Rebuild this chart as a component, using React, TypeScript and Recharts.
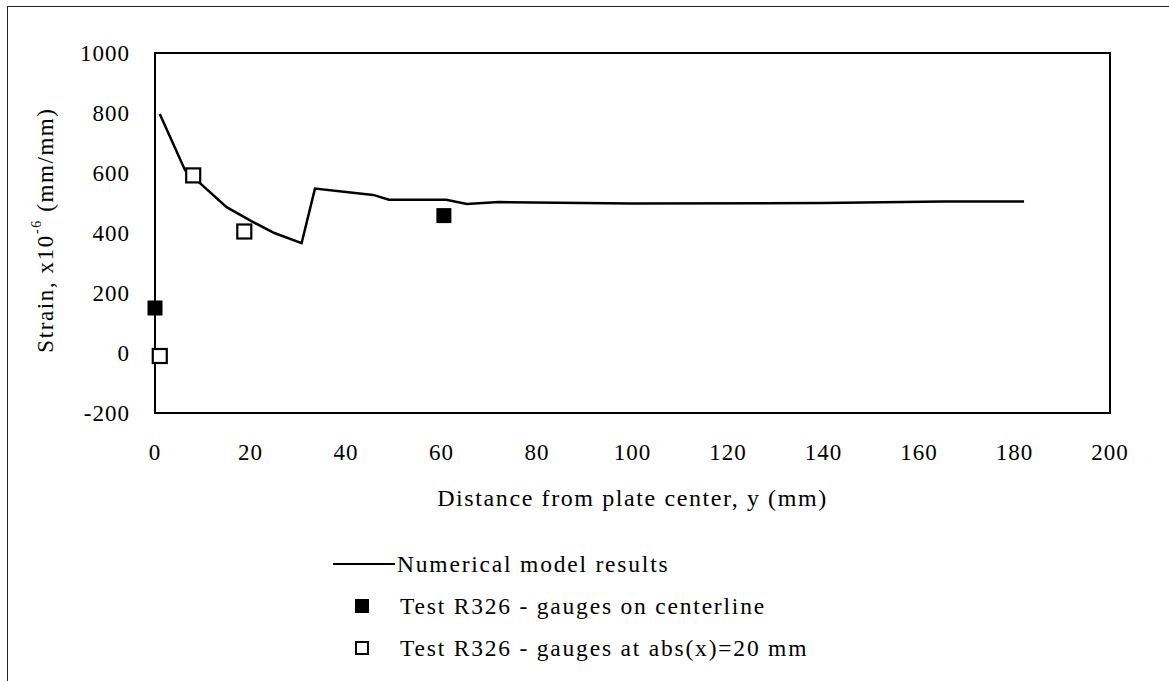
import React from 'react';
import { ComposedChart, Line, Scatter, XAxis, YAxis, ReferenceArea, Legend } from 'recharts';

// Numerical model curve (strain vs. distance from plate center)
const modelX = [1, 6.3, 9, 15, 20, 25, 30.7, 33.5, 45.7, 49, 61, 65.3, 72, 100, 140, 165, 182];
const modelY = [797, 609, 572, 486, 441, 400, 366, 548, 527, 511, 511, 497, 503, 498, 500, 505, 505];

// Test R326 gauges
const centerX = [0, 60.5];
const centerY = [150, 458];
const offsetX = [1, 8, 18.7];
const offsetY = [-10, 592, 405];

const xTicks = [0, 20, 40, 60, 80, 100, 120, 140, 160, 180, 200];
const yTicks = [-200, 0, 200, 400, 600, 800, 1000];

const modelData = modelX.map((x, i) => ({ x, y: modelY[i] }));
const centerData = centerX.map((x, i) => ({ x, y: centerY[i] }));
const offsetData = offsetX.map((x, i) => ({ x, y: offsetY[i] }));

const FONT = '"Liberation Serif", "Times New Roman", serif';

const FilledSquare = (props: any) => {
  const { cx, cy } = props;
  return <rect x={cx - 7.5} y={cy - 7.5} width={15} height={15} fill="#000" />;
};

const OpenSquare = (props: any) => {
  const { cx, cy } = props;
  return <rect x={cx - 7} y={cy - 7} width={14} height={14} fill="#fff" stroke="#000" strokeWidth={2.2} />;
};

const YTitle = (props: any) => {
  const { viewBox } = props;
  const cx = 45;
  const cy = viewBox.y + viewBox.height / 2 - 3;
  return (
    <text
      x={cx}
      y={cy}
      transform={`rotate(-90 ${cx} ${cy})`}
      textAnchor="middle"
      dominantBaseline="central"
      fontFamily={FONT}
      fontSize={23}
      letterSpacing={1.6}
      fill="#000"
    >
      Strain, x10
      <tspan dy={-9} fontSize={14}>-6</tspan>
      <tspan dy={9}> (mm/mm)</tspan>
    </text>
  );
};

const LegendBox = () => {
  const row: React.CSSProperties = {
    display: 'flex',
    alignItems: 'center',
    height: 42,
    fontFamily: FONT,
    fontSize: 23.5,
    letterSpacing: 1.8,
    color: '#000',
    whiteSpace: 'nowrap',
  };
  const markBox: React.CSSProperties = { width: 36, flexShrink: 0, display: 'flex', justifyContent: 'flex-end', marginRight: 31 };
  return (
    <div style={{ width: 560 }}>
      <div style={row}>
        <div style={{ width: 62, height: 2, flexShrink: 0, background: '#000', marginRight: 2 }} />
        <span>Numerical model results</span>
      </div>
      <div style={row}>
        <div style={markBox}>
          <div style={{ width: 14, height: 14, background: '#000' }} />
        </div>
        <span>Test R326 - gauges on centerline</span>
      </div>
      <div style={row}>
        <div style={markBox}>
          <div style={{ width: 10, height: 10, border: '2px solid #000', background: '#fff' }} />
        </div>
        <span>Test R326 - gauges at abs(x)=20 mm</span>
      </div>
    </div>
  );
};

export default function App() {
  return (
    <div style={{ position: 'absolute', left: 0, top: 0, width: 1169, height: 681, background: '#fff', overflow: 'hidden' }}>
      <div
        style={{
          position: 'absolute',
          left: 7,
          top: 6,
          width: 1180,
          height: 700,
          border: '1.5px solid #222',
          boxSizing: 'border-box',
        }}
      />
      <ComposedChart
        width={1169}
        height={681}
        margin={{ top: 53, right: 59, left: 95, bottom: 238 }}
        style={{ position: 'absolute', left: 0, top: 0 }}
      >
        <XAxis
          dataKey="x"
          type="number"
          domain={[0, 200]}
          ticks={xTicks}
          interval={0}
          height={30}
          tickLine={false}
          axisLine={{ stroke: '#000', strokeWidth: 2 }}
          tickMargin={25}
          tick={{ fontFamily: FONT, fontSize: 23, fill: '#000', letterSpacing: 1 }}
          label={{
            value: 'Distance from plate center, y (mm)',
            position: 'insideTop',
            offset: 76,
            style: { fontFamily: FONT, fontSize: 24, fill: '#000', letterSpacing: 1.6 },
          }}
        />
        <YAxis
          dataKey="y"
          type="number"
          domain={[-200, 1000]}
          ticks={yTicks}
          interval={0}
          width={60}
          tickLine={false}
          axisLine={{ stroke: '#000', strokeWidth: 2 }}
          tickMargin={19}
          tick={{ fontFamily: FONT, fontSize: 23, fill: '#000', letterSpacing: 1 }}
          label={<YTitle />}
        />
        <ReferenceArea x1={0} x2={200} y1={-200} y2={1000} fill="none" stroke="#000" strokeWidth={2} ifOverflow="visible" />
        <Line
          data={modelData}
          dataKey="y"
          type="linear"
          stroke="#000"
          strokeWidth={2.5}
          dot={false}
          activeDot={false}
          isAnimationActive={false}
          name="Numerical model results"
        />
        <Scatter data={centerData} dataKey="y" shape={<FilledSquare />} isAnimationActive={false} name="Test R326 - gauges on centerline" />
        <Scatter data={offsetData} dataKey="y" shape={<OpenSquare />} isAnimationActive={false} name="Test R326 - gauges at abs(x)=20 mm" />
        <Legend
          content={<LegendBox />}
          layout="horizontal"
          verticalAlign="middle"
          align="center"
          wrapperStyle={{ position: 'absolute', left: 333, top: 543, width: 560 }}
        />
      </ComposedChart>
    </div>
  );
}
